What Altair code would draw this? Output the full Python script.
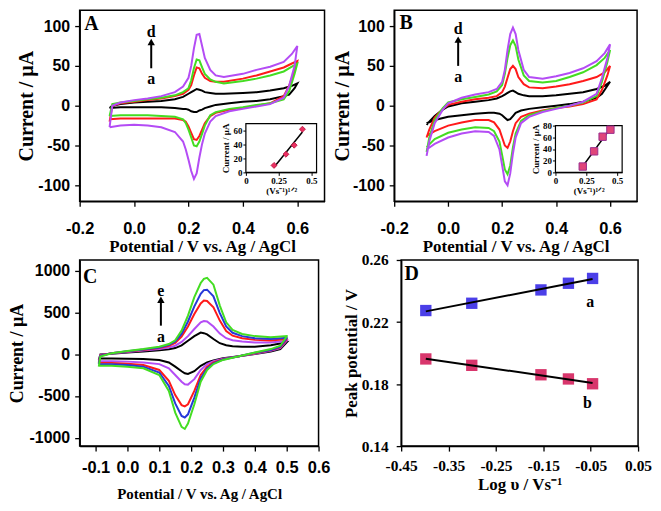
import altair as alt
import pandas as pd

MINUS = "\u2212"


def lab(fmt):
    return f"replace(format(datum.value, '{fmt}'), '{MINUS}', '-')"


# ---------------- Panel A data ----------------
A_NAMES = ["A-a", "A-b", "A-c", "A-d"]
A_COLORS = ["#000000", "#ff1a1a", "#44dd22", "#b44cf5"]
A_UP_E = [-0.09, -0.08, -0.05, 0.0, 0.05, 0.1, 0.15, 0.18, 0.2, 0.21, 0.22, 0.23, 0.24, 0.25,
          0.26, 0.28, 0.3, 0.33, 0.4, 0.45, 0.5, 0.55, 0.58, 0.6]
A_UP = {
    "A-a": [-3, 0, 2, 4, 5, 6, 8, 11, 15, 17, 19, 21, 20, 19, 17, 16, 15, 15, 16, 17, 19, 22, 25, 28],
    "A-b": [-20, 0, 3, 5, 7, 9, 12, 15, 20, 26, 38, 48, 47, 40, 35, 31, 30, 30, 34, 38, 43, 48, 53, 56],
    "A-c": [-13, 2, 4, 6, 8, 10, 13, 17, 22, 32, 47, 58, 57, 48, 40, 33, 30, 28, 31, 34, 38, 43, 49, 53],
    "A-d": [-27, 0, 4, 7, 9, 12, 17, 24, 35, 50, 72, 89, 90, 75, 60, 45, 38, 36, 40, 45, 49, 55, 65, 75],
}
A_LO_E = [0.6, 0.59, 0.57, 0.55, 0.5, 0.45, 0.4, 0.35, 0.3, 0.28, 0.26, 0.25, 0.24, 0.23, 0.22,
          0.21, 0.2, 0.19, 0.18, 0.15, 0.1, 0.05, 0.0, -0.05, -0.09]
A_LO = {
    "A-a": [28, 22, 14, 12, 8, 6, 5, 3, 1, -1, -3, -5, -6, -8, -8, -7, -5, -4, -4, -3, -2, -2, -2, -2, -3],
    "A-b": [56, 45, 25, 12, 3, 0, -3, -5, -9, -13, -22, -30, -38, -43, -42, -34, -26, -20, -18, -16, -16, -16, -16, -16, -17],
    "A-c": [53, 40, 18, 8, 3, 1, -2, -4, -8, -12, -25, -35, -45, -51, -50, -40, -30, -22, -17, -14, -13, -12, -12, -12, -13],
    "A-d": [75, 50, 25, 10, 2, -1, -4, -7, -13, -20, -35, -48, -65, -85, -92, -82, -68, -55, -45, -33, -27, -25, -24, -25, -27],
}
A_INSET_X = [0.215, 0.306, 0.369, 0.432]
A_INSET_Y = [10, 26, 39, 62]

# ---------------- Panel B data ----------------
B_NAMES = ["B-a", "B-b", "B-c", "B-d"]
B_COLORS = ["#000000", "#ff1a1a", "#44dd22", "#b44cf5"]
B_UP_E = [-0.08, -0.07, -0.05, -0.02, 0.0, 0.05, 0.1, 0.15, 0.18, 0.2, 0.21, 0.22, 0.23, 0.24,
          0.25, 0.26, 0.28, 0.3, 0.35, 0.4, 0.45, 0.5, 0.55, 0.58, 0.6]
B_UP = {
    "B-a": [-24, -20, -13, -5, -1, 3, 5, 7, 9, 12, 14, 16, 18, 19, 17, 15, 13, 12, 12, 13, 15, 17, 21, 25, 30],
    "B-b": [-40, -30, -15, -4, 1, 5, 8, 10, 12, 17, 24, 35, 46, 50, 46, 36, 27, 23, 22, 24, 27, 31, 36, 42, 50],
    "B-c": [-58, -40, -18, -3, 4, 8, 11, 14, 18, 26, 40, 60, 76, 82, 75, 58, 38, 31, 29, 31, 36, 42, 51, 60, 70],
    "B-d": [-63, -45, -22, -5, 3, 10, 14, 17, 21, 30, 45, 70, 90, 98, 90, 70, 45, 36, 34, 37, 41, 47, 56, 66, 77],
}
B_LO_E = [0.6, 0.59, 0.57, 0.55, 0.5, 0.45, 0.4, 0.35, 0.3, 0.27, 0.25, 0.24, 0.23, 0.22, 0.21,
          0.2, 0.19, 0.17, 0.15, 0.1, 0.05, 0.0, -0.05, -0.08]
B_LO = {
    "B-a": [30, 25, 15, 10, 5, 2, 0, -2, -4, -6, -9, -13, -17, -18, -15, -12, -10, -9, -9, -10, -12, -14, -18, -22],
    "B-b": [50, 38, 20, 8, 2, -1, -3, -6, -10, -14, -22, -32, -45, -53, -50, -40, -30, -21, -18, -18, -21, -25, -32, -38],
    "B-c": [70, 55, 30, 12, 4, 0, -3, -7, -12, -19, -35, -52, -75, -86, -80, -62, -45, -32, -28, -27, -30, -34, -42, -52],
    "B-d": [77, 60, 35, 15, 5, 0, -4, -8, -14, -22, -40, -60, -85, -100, -95, -75, -55, -38, -33, -32, -35, -40, -48, -55],
}
B_INSET_X = [0.221, 0.313, 0.382, 0.445]
B_INSET_Y = [10, 36, 61, 73]

# ---------------- Panel C data ----------------
C_NAMES = ["C-a", "C-b", "C-c", "C-d", "C-e"]
C_COLORS = ["#000000", "#b44cf5", "#ff1a1a", "#2638d8", "#44dd22"]
C_UP_E = [-0.09, -0.085, -0.05, 0.0, 0.05, 0.1, 0.13, 0.15, 0.17, 0.19, 0.21, 0.23, 0.24, 0.25,
          0.27, 0.29, 0.31, 0.33, 0.36, 0.4, 0.45, 0.5]
C_UP = {
    "C-a": [-70, -5, 5, 18, 30, 45, 58, 72, 105, 160, 215, 257, 250, 235, 180, 130, 105, 95, 88, 88, 105, 140],
    "C-b": [-90, -10, 8, 25, 42, 60, 80, 100, 145, 215, 300, 380, 395, 390, 330, 245, 190, 165, 150, 140, 140, 160],
    "C-c": [-110, -15, 10, 30, 50, 72, 100, 135, 210, 330, 480, 605, 640, 635, 560, 400, 275, 220, 190, 170, 163, 180],
    "C-d": [-120, -20, 10, 33, 55, 80, 110, 150, 240, 390, 570, 720, 765, 770, 690, 490, 330, 255, 215, 190, 180, 195],
    "C-e": [-150, -30, 10, 38, 60, 88, 120, 165, 280, 460, 680, 850, 900, 912, 830, 580, 380, 290, 240, 215, 200, 215],
}
C_LO_E = [0.5, 0.48, 0.45, 0.4, 0.35, 0.3, 0.27, 0.25, 0.23, 0.21, 0.19, 0.18, 0.17, 0.15, 0.13,
          0.1, 0.05, 0.0, -0.05, -0.09]
C_LO = {
    "C-a": [140, 60, 30, 0, -25, -50, -75, -100, -140, -205, -238, -230, -205, -150, -100, -70, -60, -55, -52, -52],
    "C-b": [160, 70, 40, 5, -25, -55, -85, -120, -190, -300, -365, -360, -330, -250, -170, -120, -100, -90, -85, -85],
    "C-c": [175, 80, 45, 10, -25, -60, -100, -150, -250, -440, -600, -625, -610, -490, -320, -190, -130, -115, -105, -105],
    "C-d": [190, 90, 50, 15, -25, -65, -110, -170, -290, -520, -720, -758, -740, -590, -380, -220, -150, -130, -120, -120],
    "C-e": [210, 100, 60, 20, -25, -70, -120, -190, -330, -600, -830, -895, -870, -700, -440, -250, -170, -150, -140, -140],
}

# ---------------- Panel D data ----------------
D_LOGV = [-0.398, -0.301, -0.155, -0.097, -0.046]
D_EPA = [0.2274, 0.2321, 0.2407, 0.2450, 0.2481]
D_EPC = [0.1962, 0.1921, 0.1860, 0.1833, 0.1802]
D_SERIES = ["D-a", "D-b"]
D_COLORS = ["#4b3fe8", "#d8366c"]

# ---------------- styles ----------------
SANS = "Liberation Sans"
SERIF = "Liberation Serif"
AX = dict(grid=False, domainColor="black", tickColor="black", labelColor="black", titleColor="black",
          labelFontWeight="bold", titleFont=SERIF, titleFontWeight="bold", labelFlush=False,
          labelOverlap=False)


def cv_df(names, up_e, up, lo_e, lo):
    rows = []
    for n in names:
        k = 0
        for e, i in zip(up_e, up[n]):
            rows.append({"E": e, "I": i, "curve": n, "k": k})
            k += 1
        for e, i in zip(lo_e, lo[n]):
            rows.append({"E": e, "I": i, "curve": n, "k": k})
            k += 1
    return pd.DataFrame(rows)


def main_panel(df, names, colors, X, Y, ann, arrow):
    lines = alt.Chart(df).mark_line(strokeWidth=2, interpolate="linear").encode(
        x=X, y=Y,
        color=alt.Color("curve:N", scale=alt.Scale(domain=names, range=colors), legend=None),
        order="k:Q",
    )
    txt = alt.Chart(pd.DataFrame(ann)).mark_text(
        font=SERIF, fontWeight="bold", color="black", align="center", baseline="middle"
    ).encode(x=X, y=Y, text="t:N", size=alt.Size("fs:Q", scale=None))
    arr_df = pd.DataFrame({"E": [arrow[0]], "I": [arrow[1]], "I2": [arrow[2]]})
    rule = alt.Chart(arr_df).mark_rule(color="black", strokeWidth=2).encode(x=X, y=Y, y2="I2:Q")
    head = alt.Chart(pd.DataFrame({"E": [arrow[0]], "I": [arrow[2]]})).mark_point(
        shape="triangle-up", filled=True, color="black", size=55, opacity=1
    ).encode(x=X, y=Y)
    return alt.layer(lines, txt, rule, head)


def inset(xs, ys, xdom, ydom, xrange, yrange, yticks, H, shape, fill, stroke, size):
    d = pd.DataFrame({"x": xs, "y": ys})
    common = dict(labelFont=SERIF, labelFontSize=9, titleFontSize=9, tickSize=3, labelPadding=1,
                  domainWidth=1, tickWidth=1, **AX)
    X = alt.X("x:Q", scale=alt.Scale(domain=xdom, range=xrange, nice=False, zero=False),
              axis=alt.Axis(orient="bottom", offset=-(H - yrange[0]), values=[0, 0.25, 0.5],
                            labelExpr="format(datum.value, '.2~f')",
                            title="(Vs\u207b\u00b9)\u00b9\u141f\u00b2", titleY=14, **common))
    Y = alt.Y("y:Q", scale=alt.Scale(domain=ydom, range=yrange, nice=False, zero=False),
              axis=alt.Axis(orient="left", offset=-xrange[0], values=yticks, format="d",
                            title="Current / \u00b5A", titleX=-15, **common))
    frame = alt.Chart(pd.DataFrame({"x": [xdom[0]], "x2": [xdom[1]], "y": [ydom[0]], "y2": [ydom[1]]})).mark_rect(
        fill="white", stroke="black", strokeWidth=1.2).encode(x=X, x2="x2:Q", y=Y, y2="y2:Q")
    reg = alt.Chart(d).transform_regression("x", "y").mark_line(color="black", strokeWidth=1.5).encode(x=X, y=Y)
    pts = alt.Chart(d).mark_point(shape=shape, filled=True, fill=fill, stroke=stroke, strokeWidth=1,
                                  size=size, opacity=1).encode(x=X, y=Y)
    return alt.layer(frame, reg, pts)


MAIN = dict(domainWidth=1.5, tickWidth=1.3, tickSize=5, offset=0, **AX)

# ---------------- Panel A ----------------
WA, HA = 246, 192
XA = alt.X("E:Q", scale=alt.Scale(domain=[-0.2, 0.7], nice=False, zero=False),
           axis=alt.Axis(orient="bottom", values=[-0.2, 0, 0.2, 0.4, 0.6], labelExpr=lab(".1f"),
                         title="Potential / V vs. Ag / AgCl", labelFont=SANS, labelFontSize=16.5,
                         titleFontSize=17, labelPadding=14, titleY=37, **MAIN))
YA = alt.Y("I:Q", scale=alt.Scale(domain=[-120, 120], nice=False, zero=False),
           axis=alt.Axis(orient="left", values=[-100, -50, 0, 50, 100], labelExpr=lab("d"),
                         title="Current / \u00b5A", labelFont=SANS, labelFontSize=16, titleFontSize=20,
                         labelPadding=5, titleX=-43, **MAIN))
A_ANN = {"t": ["A", "d", "a"], "E": [-0.157, 0.063, 0.063], "I": [102, 93, 33], "fs": [20, 16, 16]}
A_ARROW = [0.063, 47, 80]
panelA = alt.layer(
    main_panel(cv_df(A_NAMES, A_UP_E, A_UP, A_LO_E, A_LO), A_NAMES, A_COLORS, XA, YA, A_ANN, A_ARROW),
    inset(A_INSET_X, A_INSET_Y, [0, 0.54], [0, 70], [167, 238], [163, 114], [0, 20, 40, 60], HA,
          "diamond", "#ec2f62", "#c0204a", 35),
).resolve_scale(x="independent", y="independent").properties(width=WA, height=HA)

# ---------------- Panel B ----------------
WB, HB = 244, 192
XB = alt.X("E:Q", scale=alt.Scale(domain=[-0.2, 0.7], nice=False, zero=False),
           axis=alt.Axis(orient="bottom", values=[-0.2, 0, 0.2, 0.4, 0.6], labelExpr=lab(".1f"),
                         title="Potential / V vs. Ag / AgCl", labelFont=SANS, labelFontSize=16.5,
                         titleFontSize=17, labelPadding=14, titleY=37, **MAIN))
YB = alt.Y("I:Q", scale=alt.Scale(domain=[-120, 120], nice=False, zero=False),
           axis=alt.Axis(orient="left", values=[-100, -50, 0, 50, 100], labelExpr=lab("d"),
                         title="Current / \u00b5A", labelFont=SANS, labelFontSize=16, titleFontSize=20,
                         labelPadding=5, titleX=-42, **MAIN))
B_ANN = {"t": ["B", "d", "a"], "E": [-0.156, 0.037, 0.037], "I": [104, 96, 36], "fs": [20, 16, 16]}
B_ARROW = [0.037, 50, 83]
panelB = alt.layer(
    main_panel(cv_df(B_NAMES, B_UP_E, B_UP, B_LO_E, B_LO), B_NAMES, B_COLORS, XB, YB, B_ANN, B_ARROW),
    inset(B_INSET_X, B_INSET_Y, [0, 0.54], [0, 80], [162, 229], [163, 116], [0, 20, 40, 60, 80], HB,
          "square", "#e0457a", "#9b2f8f", 55),
).resolve_scale(x="independent", y="independent").properties(width=WB, height=HB)

# ---------------- Panel C ----------------
WC, HC = 240, 187
XC = alt.X("E:Q", scale=alt.Scale(domain=[-0.15, 0.6], nice=False, zero=False),
           axis=alt.Axis(orient="bottom", values=[-0.1, 0, 0.1, 0.2, 0.3, 0.4, 0.5, 0.6],
                         labelExpr=lab(".1f"), title="Potential / V vs. Ag / AgCl", labelFont=SANS,
                         labelFontSize=16.5, titleFontSize=15, labelPadding=9, titleY=41, **MAIN))
YC = alt.Y("I:Q", scale=alt.Scale(domain=[-1100, 1125], nice=False, zero=False),
           axis=alt.Axis(orient="left", values=[-1000, -500, 0, 500, 1000], labelExpr=lab("d"),
                         title="Current / \u00b5A", labelFont=SANS, labelFontSize=16, titleFontSize=18,
                         labelPadding=5, titleX=-53, **MAIN))
C_ANN = {"t": ["C", "e", "a"], "E": [-0.117, 0.105, 0.105], "I": [920, 750, 205], "fs": [20, 16, 16]}
C_ARROW = [0.105, 340, 650]
panelC = main_panel(cv_df(C_NAMES, C_UP_E, C_UP, C_LO_E, C_LO), C_NAMES, C_COLORS, XC, YC, C_ANN,
                    C_ARROW).properties(width=WC, height=HC)

# ---------------- Panel D ----------------
WD, HD = 238, 187
dfD = pd.DataFrame({
    "logv": D_LOGV + D_LOGV,
    "Ep": D_EPA + D_EPC,
    "s": [D_SERIES[0]] * len(D_LOGV) + [D_SERIES[1]] * len(D_LOGV),
})
XD = alt.X("logv:Q", scale=alt.Scale(domain=[-0.45, 0.05], nice=False, zero=False),
           axis=alt.Axis(orient="bottom", values=[-0.45, -0.35, -0.25, -0.15, -0.05, 0.05],
                         labelExpr=lab(".2f"), title="Log \u03c5 / Vs\u207b\u00b9", labelFont=SERIF,
                         labelFontSize=15.5, titleFontSize=17, labelPadding=7, titleY=31, **MAIN))
YD = alt.Y("Ep:Q", scale=alt.Scale(domain=[0.14, 0.26], nice=False, zero=False),
           axis=alt.Axis(orient="left", values=[0.14, 0.18, 0.22, 0.26], format=".2f",
                         title="Peak potential / V", labelFont=SERIF, labelFontSize=15.5,
                         titleFontSize=17, labelPadding=8, titleX=-41, **MAIN))
ptsD = alt.Chart(dfD).mark_point(shape="square", filled=True, size=130, opacity=1, strokeWidth=1.5,
                                 strokeOpacity=0.5).encode(
    x=XD, y=YD,
    color=alt.Color("s:N", scale=alt.Scale(domain=D_SERIES, range=D_COLORS), legend=None),
)
regD = alt.Chart(dfD).transform_regression("logv", "Ep", groupby=["s"]).mark_line(
    color="black", strokeWidth=2).encode(x=XD, y=YD, detail="s:N")
D_ANN = {"t": ["D", "a", "b"], "logv": [-0.428, -0.051, -0.057], "Ep": [0.2508, 0.233, 0.168],
         "fs": [20, 16, 16]}
txtD = alt.Chart(pd.DataFrame(D_ANN)).mark_text(font=SERIF, fontWeight="bold", color="black").encode(
    x=XD, y=YD, text="t:N", size=alt.Size("fs:Q", scale=None))
panelD = alt.layer(ptsD, regD, txtD).properties(width=WD, height=HD)

row1 = alt.hconcat(panelA, panelB, spacing=6).resolve_scale(color="independent")
row2 = alt.hconcat(panelC, panelD, spacing=10).resolve_scale(color="independent")
chart = alt.vconcat(row1, row2, spacing=-3).resolve_scale(color="independent").properties(
    padding={"left": 0, "top": 0, "right": 0, "bottom": 0}, background="white"
).configure_view(stroke="black", strokeWidth=1.5)

chart.save("out.html", embed_options={"renderer": "svg", "actions": False})
